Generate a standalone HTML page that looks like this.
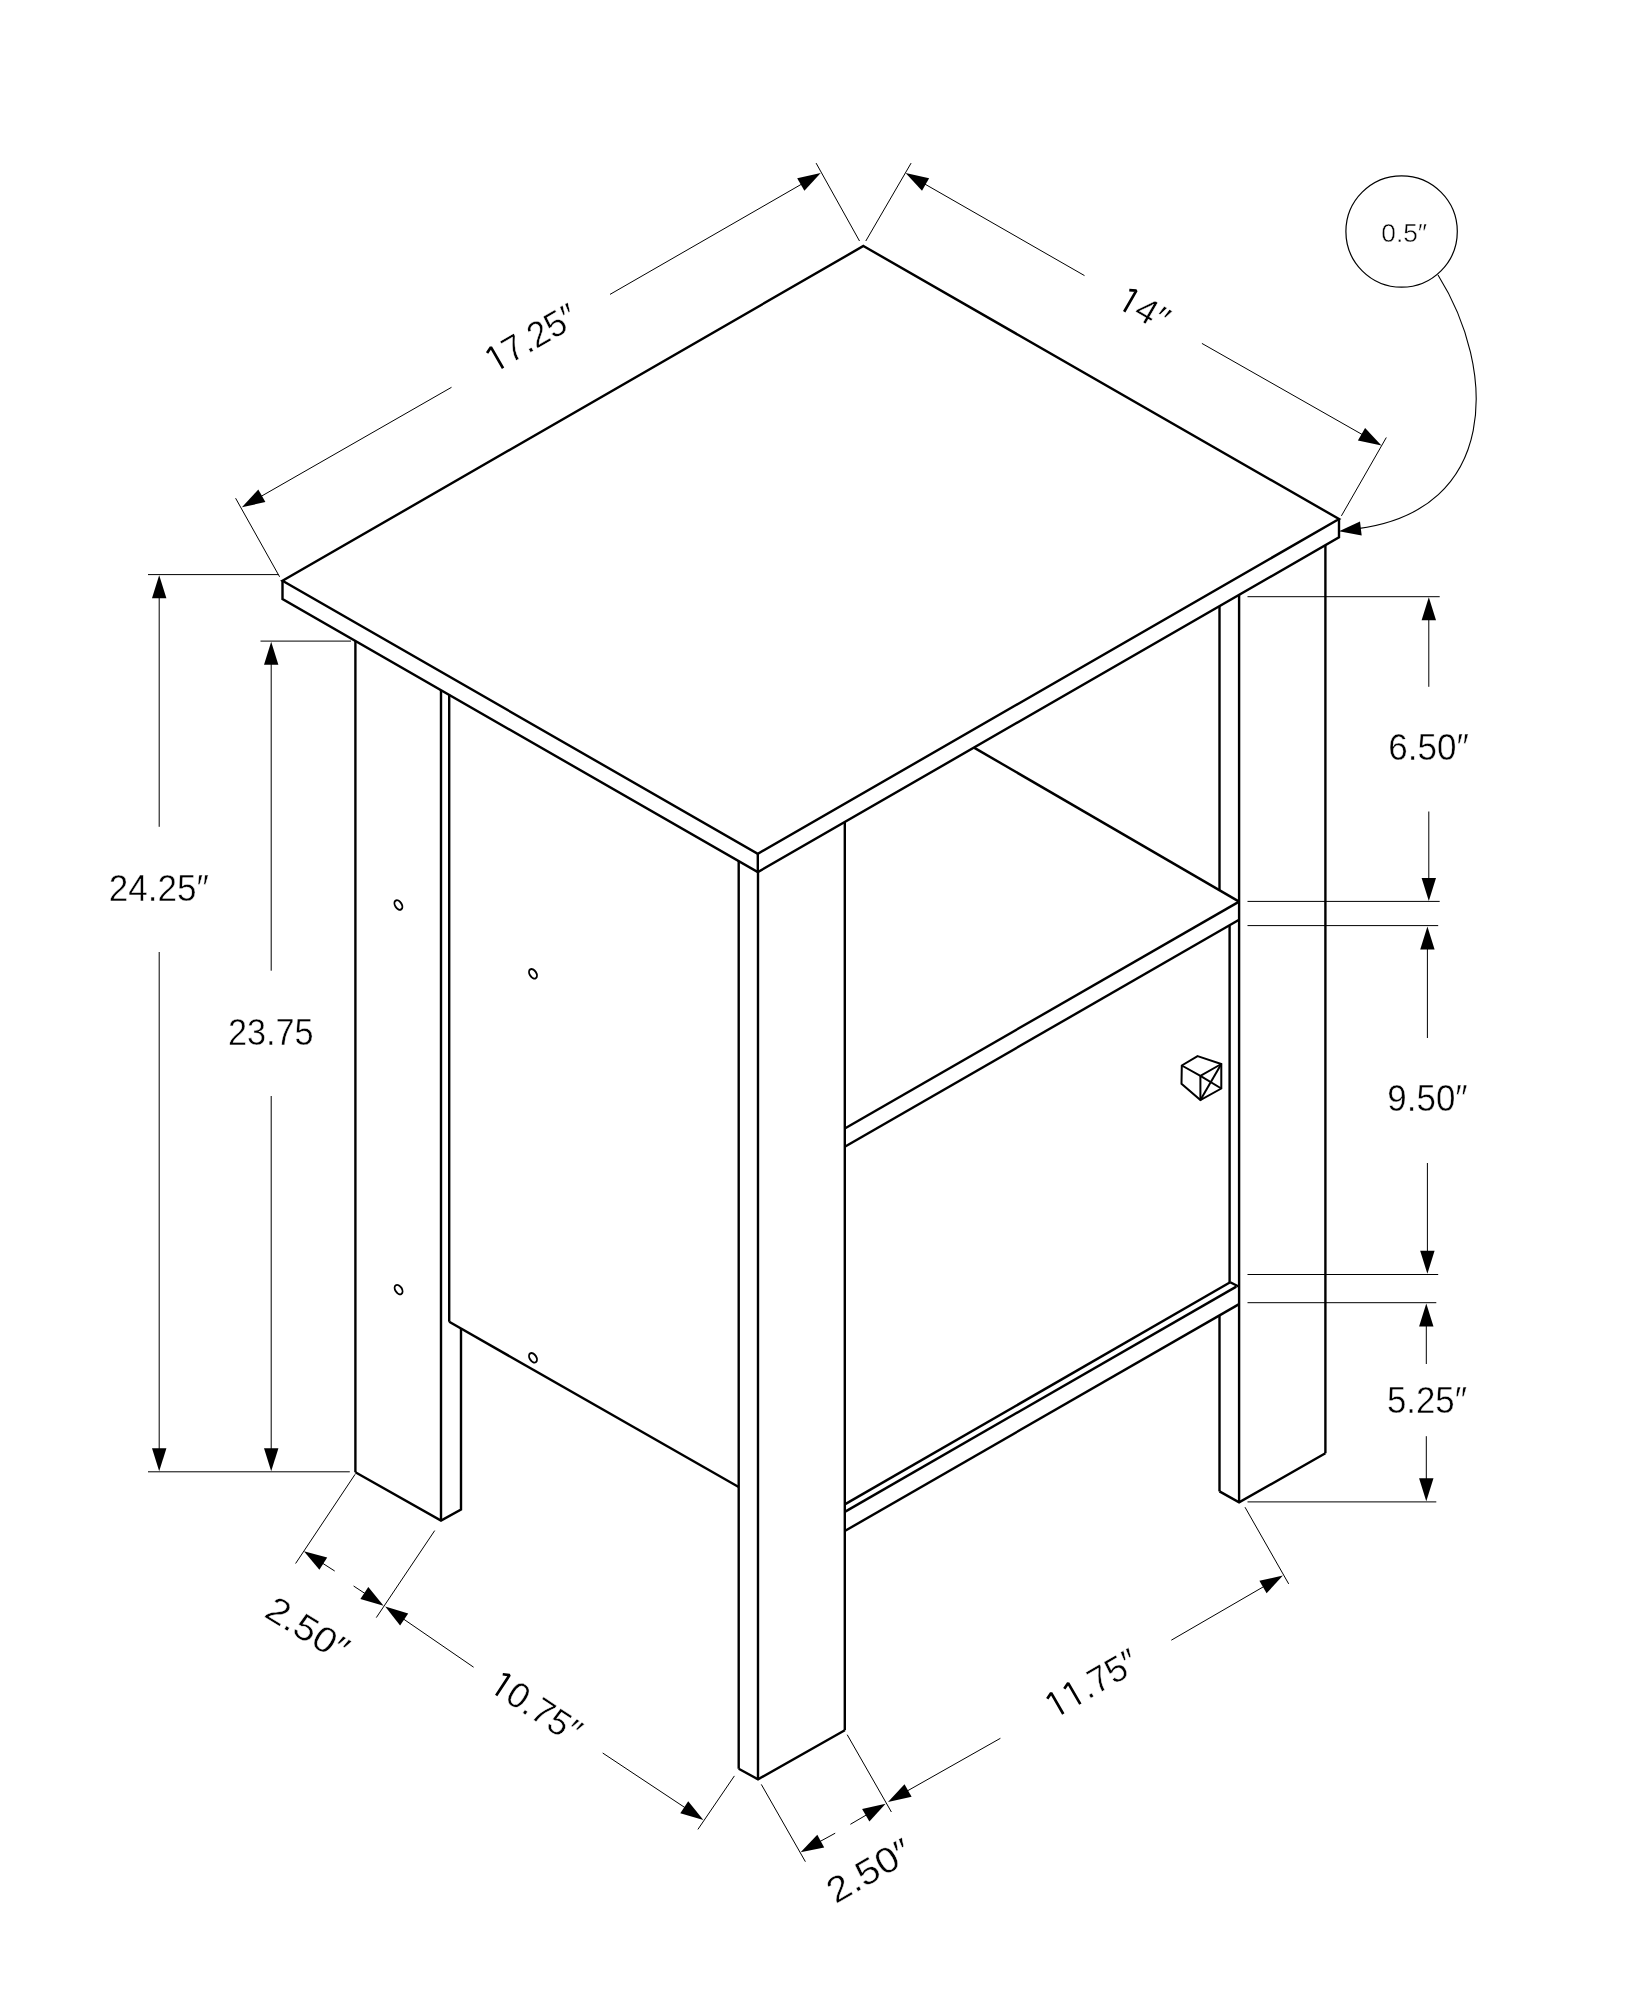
<!DOCTYPE html>
<html><head><meta charset="utf-8"><style>
html,body{margin:0;padding:0;background:#fff;}
svg{display:block;will-change:transform;}
text{font-family:"Liberation Sans",sans-serif;fill:#000;stroke:#fff;stroke-width:0.45px;paint-order:normal;}
</style></head><body>
<svg width="1648" height="2000" viewBox="0 0 1648 2000" stroke-linecap="butt">
<rect width="1648" height="2000" fill="#fff"/>
<g>
<polygon points="863.4,246.0 1339.0,519.0 757.8,853.8 282.5,580.8" fill="none" stroke="#000" stroke-width="2.4" stroke-linejoin="miter"/>
<polyline points="282.5,580.8 282.5,599.1 757.8,872.1 1339.0,537.3 1339.0,519.0" fill="none" stroke="#000" stroke-width="2.4" stroke-linejoin="miter"/>
<line x1="757.8" y1="853.8" x2="757.8" y2="872.1" stroke="#000" stroke-width="2.4"/>
<line x1="355.4" y1="641.0" x2="355.4" y2="1472.2" stroke="#000" stroke-width="2.4"/>
<line x1="441.0" y1="690.1" x2="441.0" y2="1520.6" stroke="#000" stroke-width="2.4"/>
<polyline points="355.4,1472.2 441.0,1520.6 461.0,1509.6 461.0,1328.6" fill="none" stroke="#000" stroke-width="2.4" stroke-linejoin="miter"/>
<line x1="449.2" y1="694.8" x2="449.2" y2="1321.8" stroke="#000" stroke-width="2.4"/>
<line x1="449.2" y1="1321.8" x2="738.7" y2="1487.0" stroke="#000" stroke-width="2.4"/>
<line x1="738.7" y1="861.1" x2="738.7" y2="1768.8" stroke="#000" stroke-width="2.4"/>
<line x1="758.0" y1="872.1" x2="758.0" y2="1779.3" stroke="#000" stroke-width="2.4"/>
<line x1="844.8" y1="822.0" x2="844.8" y2="1730.3" stroke="#000" stroke-width="2.4"/>
<polyline points="738.7,1768.8 758.0,1779.3 844.8,1730.3" fill="none" stroke="#000" stroke-width="2.4" stroke-linejoin="miter"/>
<line x1="1219.5" y1="606.1" x2="1219.5" y2="890.5" stroke="#000" stroke-width="2.4"/>
<line x1="1219.5" y1="1316.0" x2="1219.5" y2="1491.4" stroke="#000" stroke-width="2.4"/>
<line x1="1239.1" y1="594.8" x2="1239.1" y2="1502.3" stroke="#000" stroke-width="2.4"/>
<line x1="1325.4" y1="545.1" x2="1325.4" y2="1453.3" stroke="#000" stroke-width="2.4"/>
<polyline points="1219.5,1491.4 1239.1,1502.3 1325.4,1453.3" fill="none" stroke="#000" stroke-width="2.4" stroke-linejoin="miter"/>
<line x1="974.0" y1="747.6" x2="1239.1" y2="901.6" stroke="#000" stroke-width="2.4"/>
<line x1="1239.1" y1="901.6" x2="844.8" y2="1128.5" stroke="#000" stroke-width="2.4"/>
<line x1="1239.1" y1="919.8" x2="844.8" y2="1146.7" stroke="#000" stroke-width="2.4"/>
<line x1="1229.6" y1="925.2" x2="1229.6" y2="1282.0" stroke="#000" stroke-width="2.4"/>
<line x1="1230.2" y1="1282.3" x2="844.8" y2="1504.4" stroke="#000" stroke-width="2.4"/>
<line x1="1236.3" y1="1286.6" x2="844.8" y2="1511.9" stroke="#000" stroke-width="2.4"/>
<line x1="1239.1" y1="1304.1" x2="844.8" y2="1531.0" stroke="#000" stroke-width="2.4"/>
<polyline points="1230.2,1282.3 1239.1,1286.8" fill="none" stroke="#000" stroke-width="2.4" stroke-linejoin="miter"/>
<ellipse cx="398.4" cy="905.0" rx="3.3" ry="5.2" transform="rotate(-32 398.4 905.0)" fill="none" stroke="#000" stroke-width="1.9"/>
<ellipse cx="533.0" cy="973.8" rx="3.3" ry="5.2" transform="rotate(-32 533.0 973.8)" fill="none" stroke="#000" stroke-width="1.9"/>
<ellipse cx="398.6" cy="1289.6" rx="3.3" ry="5.2" transform="rotate(-32 398.6 1289.6)" fill="none" stroke="#000" stroke-width="1.9"/>
<ellipse cx="533.0" cy="1357.8" rx="3.3" ry="5.2" transform="rotate(-32 533.0 1357.8)" fill="none" stroke="#000" stroke-width="1.9"/>
<polygon points="1197.6,1056.1 1221.3,1064.0 1221.3,1088.5 1200.4,1100.1 1181.5,1083.7 1181.8,1065.5" fill="none" stroke="#000" stroke-width="2.0" stroke-linejoin="miter"/>
<polyline points="1181.8,1065.5 1200.4,1075.8 1221.3,1064.0" fill="none" stroke="#000" stroke-width="2.0" stroke-linejoin="miter"/>
<line x1="1200.4" y1="1075.8" x2="1200.4" y2="1100.1" stroke="#000" stroke-width="2.0"/>
<line x1="1221.3" y1="1064.0" x2="1200.4" y2="1100.1" stroke="#000" stroke-width="2.0"/>
<line x1="1200.4" y1="1075.8" x2="1221.3" y2="1088.5" stroke="#000" stroke-width="2.0"/>
<line x1="235.6" y1="498.2" x2="279.6" y2="576.8" stroke="#000" stroke-width="1.0"/>
<line x1="816.1" y1="163.1" x2="859.5" y2="241.0" stroke="#000" stroke-width="1.0"/>
<line x1="451.5" y1="387.3" x2="257.9" y2="498.2" stroke="#000" stroke-width="1.0"/>
<polygon points="241.9,507.3 258.3,489.6 265.4,502.1" fill="#000"/>
<line x1="610.0" y1="294.4" x2="804.8" y2="182.3" stroke="#000" stroke-width="1.0"/>
<polygon points="820.7,173.1 804.4,190.8 797.2,178.3" fill="#000"/>
<g transform="translate(496.80 371.90) rotate(-30)"><text x="-3.43" y="0" font-size="36" textLength="100.28" lengthAdjust="spacingAndGlyphs">&#8199;7.25&#8243;</text><path transform="translate(-3.43 0) scale(0.01714 0.01758)" d="M622,0 L622,-1385 L262,-1210" fill="none" stroke="#000" stroke-width="2.7" vector-effect="non-scaling-stroke" stroke-linejoin="bevel"/></g>
<line x1="911.1" y1="163.1" x2="865.8" y2="241.0" stroke="#000" stroke-width="1.0"/>
<line x1="1386.3" y1="437.5" x2="1341.4" y2="515.9" stroke="#000" stroke-width="1.0"/>
<line x1="1084.5" y1="275.6" x2="921.6" y2="182.2" stroke="#000" stroke-width="1.0"/>
<polygon points="905.6,173.0 929.1,178.2 922.0,190.7" fill="#000"/>
<line x1="1201.9" y1="343.4" x2="1365.5" y2="436.4" stroke="#000" stroke-width="1.0"/>
<polygon points="1381.5,445.5 1357.9,440.4 1365.1,427.9" fill="#000"/>
<g transform="translate(1117.70 308.04) rotate(30)"><text x="-3.54" y="0" font-size="36" textLength="53.22" lengthAdjust="spacingAndGlyphs">&#8199;4&#8243;</text><path transform="translate(-3.54 0) scale(0.01772 0.01758)" d="M622,0 L622,-1385 L262,-1210" fill="none" stroke="#000" stroke-width="2.7" vector-effect="non-scaling-stroke" stroke-linejoin="bevel"/></g>
<circle cx="1401.6" cy="231.5" r="55.7" fill="none" stroke="#000" stroke-width="1.2"/>
<g transform="translate(1382.30 241.60) rotate(0)"><text x="-1.03" y="0" font-size="26" textLength="45.92" lengthAdjust="spacingAndGlyphs">0.5&#8243;</text></g>
<path d="M1438,275 C1497.6,370.2 1498.9,510.1 1358,528.6" fill="none" stroke="#000" stroke-width="1.1"/>
<polygon points="1339.0,531.2 1360.0,521.5 1361.7,535.4" fill="#000"/>
<line x1="148.0" y1="574.6" x2="278.5" y2="574.6" stroke="#000" stroke-width="1.0"/>
<line x1="148.0" y1="1471.8" x2="349.8" y2="1471.8" stroke="#000" stroke-width="1.0"/>
<line x1="159.2" y1="826.8" x2="159.2" y2="593.7" stroke="#000" stroke-width="1.0"/>
<polygon points="159.2,575.3 166.4,598.3 152.0,598.3" fill="#000"/>
<line x1="159.2" y1="952.0" x2="159.2" y2="1452.8" stroke="#000" stroke-width="1.0"/>
<polygon points="159.2,1471.2 152.0,1448.2 166.4,1448.2" fill="#000"/>
<g transform="translate(110.50 901.00) rotate(0)"><text x="-1.76" y="0" font-size="36" textLength="100.22" lengthAdjust="spacingAndGlyphs">24.25&#8243;</text></g>
<line x1="260.5" y1="641.1" x2="351.0" y2="641.1" stroke="#000" stroke-width="1.0"/>
<line x1="271.2" y1="970.7" x2="271.2" y2="660.2" stroke="#000" stroke-width="1.0"/>
<polygon points="271.2,641.8 278.4,664.8 264.0,664.8" fill="#000"/>
<line x1="271.2" y1="1096.0" x2="271.2" y2="1452.8" stroke="#000" stroke-width="1.0"/>
<polygon points="271.2,1471.2 264.0,1448.2 278.4,1448.2" fill="#000"/>
<g transform="translate(229.60 1044.60) rotate(0)"><text x="-1.72" y="0" font-size="36" textLength="85.76" lengthAdjust="spacingAndGlyphs">23.75</text></g>
<line x1="1247.5" y1="596.7" x2="1439.7" y2="596.7" stroke="#000" stroke-width="1.0"/>
<line x1="1247.5" y1="901.4" x2="1439.7" y2="901.4" stroke="#000" stroke-width="1.0"/>
<line x1="1428.8" y1="686.8" x2="1428.8" y2="615.6" stroke="#000" stroke-width="1.0"/>
<polygon points="1428.8,597.2 1436.0,620.2 1421.6,620.2" fill="#000"/>
<line x1="1428.8" y1="811.5" x2="1428.8" y2="882.6" stroke="#000" stroke-width="1.0"/>
<polygon points="1428.8,901.0 1421.6,878.0 1436.0,878.0" fill="#000"/>
<g transform="translate(1390.10 760.00) rotate(0)"><text x="-1.78" y="0" font-size="36" textLength="80.53" lengthAdjust="spacingAndGlyphs">6.50&#8243;</text></g>
<line x1="1247.5" y1="925.6" x2="1438.2" y2="925.6" stroke="#000" stroke-width="1.0"/>
<line x1="1247.5" y1="1274.5" x2="1438.2" y2="1274.5" stroke="#000" stroke-width="1.0"/>
<line x1="1427.4" y1="1038.0" x2="1427.4" y2="944.9" stroke="#000" stroke-width="1.0"/>
<polygon points="1427.4,926.5 1434.6,949.5 1420.2,949.5" fill="#000"/>
<line x1="1427.4" y1="1163.0" x2="1427.4" y2="1255.4" stroke="#000" stroke-width="1.0"/>
<polygon points="1427.4,1273.8 1420.2,1250.8 1434.6,1250.8" fill="#000"/>
<g transform="translate(1389.00 1111.20) rotate(0)"><text x="-1.64" y="0" font-size="36" textLength="80.28" lengthAdjust="spacingAndGlyphs">9.50&#8243;</text></g>
<line x1="1247.5" y1="1302.7" x2="1436.3" y2="1302.7" stroke="#000" stroke-width="1.0"/>
<line x1="1247.5" y1="1501.9" x2="1436.3" y2="1501.9" stroke="#000" stroke-width="1.0"/>
<line x1="1426.3" y1="1364.0" x2="1426.3" y2="1322.0" stroke="#000" stroke-width="1.0"/>
<polygon points="1426.3,1303.6 1433.5,1326.6 1419.1,1326.6" fill="#000"/>
<line x1="1426.3" y1="1436.2" x2="1426.3" y2="1482.8" stroke="#000" stroke-width="1.0"/>
<polygon points="1426.3,1501.2 1419.1,1478.2 1433.5,1478.2" fill="#000"/>
<g transform="translate(1388.30 1413.00) rotate(0)"><text x="-1.39" y="0" font-size="36" textLength="80.14" lengthAdjust="spacingAndGlyphs">5.25&#8243;</text></g>
<line x1="355.1" y1="1474.3" x2="295.6" y2="1563.5" stroke="#000" stroke-width="1.0"/>
<line x1="434.7" y1="1530.6" x2="376.3" y2="1617.6" stroke="#000" stroke-width="1.0"/>
<line x1="334.7" y1="1571.0" x2="319.4" y2="1561.2" stroke="#000" stroke-width="1.0"/>
<polygon points="303.9,1551.3 327.2,1557.6 319.4,1569.8" fill="#000"/>
<line x1="353.6" y1="1586.0" x2="368.2" y2="1595.6" stroke="#000" stroke-width="1.0"/>
<polygon points="383.6,1605.7 360.4,1599.1 368.3,1587.1" fill="#000"/>
<g transform="translate(264.40 1617.00) rotate(31.5)"><text x="-1.97" y="0" font-size="36" textLength="90.20" lengthAdjust="spacingAndGlyphs">2.50&#8243;</text></g>
<line x1="734.4" y1="1775.9" x2="697.9" y2="1829.4" stroke="#000" stroke-width="1.0"/>
<line x1="473.6" y1="1667.2" x2="400.4" y2="1616.9" stroke="#000" stroke-width="1.0"/>
<polygon points="385.2,1606.5 408.2,1613.6 400.1,1625.5" fill="#000"/>
<line x1="602.7" y1="1753.0" x2="688.1" y2="1809.7" stroke="#000" stroke-width="1.0"/>
<polygon points="703.4,1819.9 680.3,1813.2 688.2,1801.2" fill="#000"/>
<g transform="translate(490.10 1691.40) rotate(33.5)"><text x="-3.45" y="0" font-size="36" textLength="100.91" lengthAdjust="spacingAndGlyphs">&#8199;0.75&#8243;</text><path transform="translate(-3.45 0) scale(0.01725 0.01758)" d="M622,0 L622,-1385 L262,-1210" fill="none" stroke="#000" stroke-width="2.7" vector-effect="non-scaling-stroke" stroke-linejoin="bevel"/></g>
<line x1="761.3" y1="1784.4" x2="805.4" y2="1861.7" stroke="#000" stroke-width="1.0"/>
<line x1="847.2" y1="1734.7" x2="891.4" y2="1812.0" stroke="#000" stroke-width="1.0"/>
<line x1="835.2" y1="1833.2" x2="816.7" y2="1843.3" stroke="#000" stroke-width="1.0"/>
<polygon points="800.6,1852.2 817.3,1834.8 824.2,1847.4" fill="#000"/>
<line x1="850.4" y1="1824.3" x2="869.7" y2="1813.0" stroke="#000" stroke-width="1.0"/>
<polygon points="885.6,1803.7 869.4,1821.5 862.1,1809.1" fill="#000"/>
<g transform="translate(837.35 1903.25) rotate(-30)"><text x="-2.00" y="0" font-size="36" textLength="91.54" lengthAdjust="spacingAndGlyphs">2.50&#8243;</text></g>
<line x1="1245.0" y1="1507.2" x2="1288.7" y2="1583.9" stroke="#000" stroke-width="1.0"/>
<line x1="1000.4" y1="1738.3" x2="904.0" y2="1792.8" stroke="#000" stroke-width="1.0"/>
<polygon points="888.0,1801.9 904.5,1784.3 911.6,1796.8" fill="#000"/>
<line x1="1171.3" y1="1640.2" x2="1267.0" y2="1584.7" stroke="#000" stroke-width="1.0"/>
<polygon points="1282.9,1575.5 1266.6,1593.3 1259.4,1580.8" fill="#000"/>
<g transform="translate(1056.98 1717.65) rotate(-30)"><text x="-3.46" y="0" font-size="36" textLength="101.11" lengthAdjust="spacingAndGlyphs">&#8199;&#8199;.75&#8243;</text><path transform="translate(-3.46 0) scale(0.01728 0.01758)" d="M622,0 L622,-1385 L262,-1210" fill="none" stroke="#000" stroke-width="2.7" vector-effect="non-scaling-stroke" stroke-linejoin="bevel"/><path transform="translate(16.23 0) scale(0.01728 0.01758)" d="M622,0 L622,-1385 L262,-1210" fill="none" stroke="#000" stroke-width="2.7" vector-effect="non-scaling-stroke" stroke-linejoin="bevel"/></g>
</g>
</svg>
</body></html>
